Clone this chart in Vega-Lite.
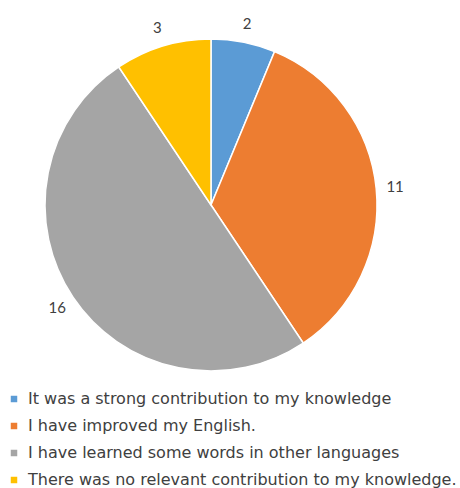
{
  "$schema": "https://vega.github.io/schema/vega-lite/v6.json",
  "width": 332,
  "height": 332,
  "autosize": "none",
  "padding": {"left": 45, "top": 39, "right": 83, "bottom": 117},
  "background": "white",
  "config": {"view": {"stroke": null}},
  "data": {
    "values": [
      {"i": 1, "answer": "It was a strong contribution to my knowledge", "count": 2},
      {"i": 2, "answer": "I have improved my English.", "count": 11},
      {"i": 3, "answer": "I have learned some words in other languages", "count": 16},
      {"i": 4, "answer": "There was no relevant contribution to my knowledge.", "count": 3}
    ]
  },
  "encoding": {
    "theta": {"field": "count", "type": "quantitative", "stack": true},
    "order": {"field": "i", "type": "quantitative"}
  },
  "layer": [
    {
      "mark": {"type": "arc", "outerRadius": 166, "stroke": "white", "strokeWidth": 1.5},
      "encoding": {
        "color": {
          "field": "answer",
          "type": "nominal",
          "sort": {"field": "i"},
          "scale": {
            "domain": [
              "It was a strong contribution to my knowledge",
              "I have improved my English.",
              "I have learned some words in other languages",
              "There was no relevant contribution to my knowledge."
            ],
            "range": ["#5B9BD5", "#ED7D31", "#A5A5A5", "#FFC000"]
          },
          "legend": {
            "title": null,
            "orient": "none",
            "legendX": -39,
            "legendY": 352,
            "direction": "vertical",
            "symbolType": "square",
            "symbolSize": 42,
            "symbolStrokeWidth": 0,
            "symbolOpacity": 1,
            "labelFont": "DejaVu Sans",
            "labelFontSize": 16,
            "labelColor": "#404040",
            "labelLimit": 0,
            "labelOffset": 6,
            "rowPadding": 11,
            "padding": 0
          }
        }
      }
    },
    {
      "mark": {"type": "text", "radius": 185, "font": "Lato", "fontSize": 15, "color": "#404040", "align": "center", "baseline": "middle"},
      "encoding": {"text": {"field": "count", "type": "quantitative"}}
    }
  ]
}
